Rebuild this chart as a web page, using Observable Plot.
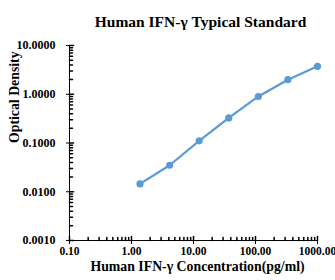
<!DOCTYPE html>
<html>
<head>
<meta charset="utf-8">
<script src="https://cdn.jsdelivr.net/npm/d3@7"></script>
<script src="https://cdn.jsdelivr.net/npm/@observablehq/plot@0.6"></script>
<style>
  html, body { margin: 0; padding: 0; background: #fff; }
</style>
</head>
<body>
<div id="chart"></div>
<script>
const title = "Human IFN-γ Typical Standard";
const xLabel = "Human IFN-γ Concentration(pg/ml)";
const yLabel = "Optical Density";
const concentration = [1.37, 4.12, 12.35, 37.04, 111.11, 333.33, 1000];
const opticalDensity = [0.0145, 0.035, 0.111, 0.327, 0.90, 1.99, 3.74];
const xTicks = [0.1, 1, 10, 100, 1000];
const yTicks = [0.001, 0.01, 0.1, 1, 10];

const data = concentration.map((c, i) => ({c, od: opticalDensity[i]}));
const minor = (majors) => majors.slice(0, -1).flatMap(m => [2,3,4,5,6,7,8,9].map(k => m * k));
const xMinor = minor(xTicks);
const yMinor = minor(yTicks);

const line = {draw(context, l) { context.moveTo(0, 0); context.lineTo(0, -l); }};
const font = "Liberation Serif, Times New Roman, serif";
const blue = "#5B9BD5";

const chart = Plot.plot({
  width: 335,
  height: 280,
  marginLeft: 69,
  marginRight: 18,
  marginTop: 45,
  marginBottom: 40,
  style: {fontFamily: font, fontWeight: "bold", fontSize: "12px", color: "#000", background: "#fff"},
  x: {type: "log", domain: [0.1, 1000]},
  y: {type: "log", domain: [0.001, 10]},
  marks: [
    Plot.axisX({ticks: xTicks, tickFormat: d => d.toFixed(2), tickSize: 4, tickPadding: 2, label: null, fontSize: 11.5}),
    Plot.axisY({ticks: yTicks, tickFormat: d => d.toFixed(4), tickSize: 3, tickPadding: 11, label: null, fontSize: 12}),
    Plot.vector(xMinor, {x: d => d, frameAnchor: "bottom", length: 3, rotate: 0, anchor: "start", shape: line, stroke: "#000"}),
    Plot.vector(xTicks, {x: d => d, frameAnchor: "bottom", length: 4, rotate: 0, anchor: "start", shape: line, stroke: "#000"}),
    Plot.vector(yMinor, {y: d => d, frameAnchor: "left", length: 3, rotate: 90, anchor: "start", shape: line, stroke: "#000"}),
    Plot.vector(yTicks, {y: d => d, frameAnchor: "left", length: 4, rotate: 90, anchor: "start", shape: line, stroke: "#000"}),
    Plot.ruleY([0.001], {stroke: "#000"}),
    Plot.ruleX([0.1], {stroke: "#000"}),
    Plot.line(data, {x: "c", y: "od", stroke: blue, strokeWidth: 2.2}),
    Plot.dot(data, {x: "c", y: "od", r: 3.6, fill: blue, stroke: "none"}),
    Plot.text([title], {frameAnchor: "top", dx: 7, dy: -30, fontSize: 15.5, fontWeight: "bold", fill: "#000"}),
    Plot.text([xLabel], {frameAnchor: "bottom", dx: 4, dy: 30, fontSize: 13.8, fontWeight: "bold", fill: "#000"}),
    Plot.text([yLabel], {frameAnchor: "left", dx: -55, rotate: -90, fontSize: 13.8, fontWeight: "bold", fill: "#000"})
  ]
});
document.getElementById("chart").appendChild(chart);
</script>
</body>
</html>
